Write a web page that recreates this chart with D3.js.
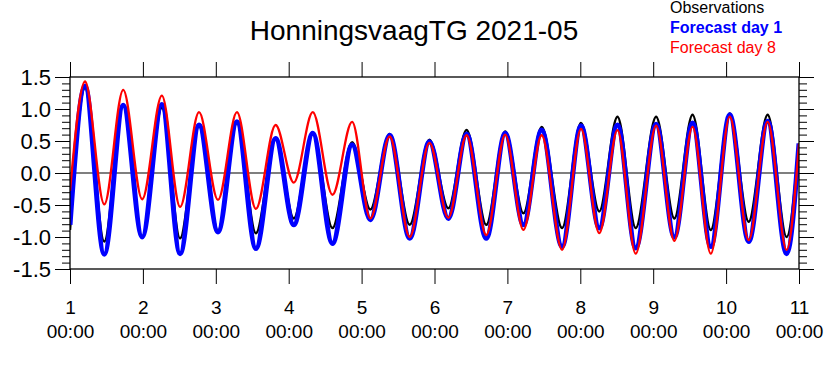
<!DOCTYPE html>
<html>
<head>
<meta charset="utf-8">
<script src="https://cdn.jsdelivr.net/npm/d3@7"></script>
<style>
  html, body { margin: 0; padding: 0; background: #fff; }
  svg { display: block; font-family: "Liberation Sans", Arial, Helvetica, sans-serif; }
</style>
</head>
<body>
<svg id="chart" width="825" height="375"></svg>
<script>
// ---- data (times of high/low water, in days of 2021-05) ----
const times = [1.0, 1.206, 1.47, 1.73, 1.99, 2.26, 2.51, 2.77, 3.03, 3.29, 3.55, 3.82, 4.07, 4.33, 4.6, 4.87,
  5.12, 5.385, 5.66, 5.93, 6.19, 6.44, 6.71, 6.97, 7.22, 7.47, 7.75, 8.01, 8.26, 8.51, 8.76, 9.04,
  9.29, 9.54, 9.79, 10.05, 10.31, 10.57, 10.83, 11.0];
const observations = [-0.89, 1.33, -1.07, 1.05, -1.0, 1.02, -1.02, 0.73, -0.9, 0.78, -0.94, 0.53, -0.71, 0.62, -0.86, 0.48,
  -0.57, 0.61, -0.81, 0.52, -0.55, 0.67, -0.81, 0.65, -0.63, 0.72, -0.86, 0.78, -0.60, 0.88, -0.86, 0.88,
  -0.71, 0.91, -0.89, 0.93, -0.76, 0.91, -1.0, 0.46];
const forecastDay1 = [-0.81, 1.36, -1.27, 1.06, -1.0, 1.07, -1.26, 0.75, -0.92, 0.80, -1.18, 0.54, -0.81, 0.62, -1.10, 0.44,
  -0.73, 0.59, -1.02, 0.49, -0.71, 0.61, -1.02, 0.62, -0.81, 0.67, -1.15, 0.74, -0.86, 0.75, -1.17, 0.76,
  -1.0, 0.78, -1.15, 0.91, -1.07, 0.81, -1.26, 0.46];
const forecastDay8 = [-0.28, 1.43, -0.49, 1.30, -0.41, 1.21, -0.53, 0.95, -0.42, 0.95, -0.56, 0.75, -0.15, 0.95, -0.34, 0.80,
  -0.71, 0.57, -1.0, 0.47, -0.70, 0.59, -0.97, 0.60, -0.89, 0.59, -1.2, 0.69, -0.94, 0.67, -1.26, 0.74,
  -1.06, 0.72, -1.26, 0.88, -1.05, 0.80, -1.2, 0.46];

const xTickDays = [1, 2, 3, 4, 5, 6, 7, 8, 9, 10, 11];
const xTickDayLabels = ["1", "2", "3", "4", "5", "6", "7", "8", "9", "10", "11"];
const xTickTimeLabels = ["00:00", "00:00", "00:00", "00:00", "00:00", "00:00", "00:00", "00:00", "00:00", "00:00", "00:00"];
const yTickValues = [-1.5, -1.0, -0.5, 0.0, 0.5, 1.0, 1.5];
const yTickLabels = ["-1.5", "-1.0", "-0.5", "0.0", "0.5", "1.0", "1.5"];

const titleText = "HonningsvaagTG 2021-05";
const legendNames = ["Observations", "Forecast day 1", "Forecast day 8"];
const seriesColors = ["#000000", "#0000ff", "#ff0000"];

// ---- layout ----
const svg = d3.select("#chart");
const L = 70, R = 799, T = 77, B = 269;
const x = d3.scaleLinear().domain([1, 11]).range([L, R]);
const y = d3.scaleLinear().domain([-1.5, 1.5]).range([B, T]);

// minor ticks on y (every 0.1)
const yMinor = d3.range(-15, 16).map(v => v / 10).filter(v => Math.abs(v * 2 - Math.round(v * 2)) > 1e-9);

function styleAxis(g) {
  g.select(".domain").remove();
  g.selectAll(".tick line").attr("stroke", "#000").attr("stroke-width", 1);
}

// left axis
svg.append("g").attr("transform", `translate(${L},0)`)
  .call(d3.axisLeft(y).tickValues(yMinor).tickSize(8).tickFormat(""))
  .call(styleAxis);
const yl = svg.append("g").attr("transform", `translate(${L},0)`)
  .call(d3.axisLeft(y).tickValues(yTickValues).tickSize(15).tickPadding(4)
    .tickFormat((d, i) => yTickLabels[i]))
  .call(styleAxis);
yl.selectAll(".tick text").attr("font-size", 22).attr("fill", "#000")
  .attr("font-family", "'Liberation Sans', Arial, sans-serif");

// right axis
svg.append("g").attr("transform", `translate(${R},0)`)
  .call(d3.axisRight(y).tickValues(yMinor).tickSize(8).tickFormat(""))
  .call(styleAxis);
svg.append("g").attr("transform", `translate(${R},0)`)
  .call(d3.axisRight(y).tickValues(yTickValues).tickSize(15).tickFormat(""))
  .call(styleAxis);

// top axis
svg.append("g").attr("transform", `translate(0,${T})`)
  .call(d3.axisTop(x).tickValues(xTickDays).tickSize(15).tickFormat(""))
  .call(styleAxis);

// bottom axis with two-line labels
const xb = svg.append("g").attr("transform", `translate(0,${B})`)
  .call(d3.axisBottom(x).tickValues(xTickDays).tickSize(15).tickFormat(""))
  .call(styleAxis);
xb.selectAll(".tick").each(function (d, i) {
  const t = d3.select(this).append("text")
    .attr("fill", "#000").attr("text-anchor", "middle")
    .attr("font-size", 19)
    .attr("font-family", "'Liberation Sans', Arial, sans-serif");
  t.append("tspan").attr("x", 0).attr("y", 45).text(xTickDayLabels[i]);
  t.append("tspan").attr("x", 0).attr("y", 69).text(xTickTimeLabels[i]);
});

// clip
svg.append("clipPath").attr("id", "clip").append("rect")
  .attr("x", L).attr("y", T).attr("width", R - L).attr("height", B - T);

// zero line
svg.append("line").attr("x1", L).attr("x2", R).attr("y1", y(0)).attr("y2", y(0))
  .attr("stroke", "#000").attr("stroke-width", 1.2);

const line = d3.line().x(d => x(d[0])).y(d => y(d[1])).curve(d3.curveMonotoneX);
const series = [
  { vals: observations, color: seriesColors[0], w: 2.5 },
  { vals: forecastDay1, color: seriesColors[1], w: 5 },
  { vals: forecastDay8, color: seriesColors[2], w: 2.3 }
];
const pg = svg.append("g").attr("clip-path", "url(#clip)");
series.forEach(s => {
  pg.append("path")
    .datum(times.map((t, i) => [t, s.vals[i]]))
    .attr("d", line)
    .attr("fill", "none")
    .attr("stroke", s.color)
    .attr("stroke-width", s.w)
    .attr("stroke-linejoin", "round");
});

// frame
svg.append("rect").attr("x", L).attr("y", T).attr("width", R - L).attr("height", B - T)
  .attr("fill", "none").attr("stroke", "#000").attr("stroke-width", 1.3);

// title
svg.append("text").attr("x", 414).attr("y", 40).attr("text-anchor", "middle")
  .attr("font-size", 28).attr("fill", "#000").text(titleText);

// legend
const legY = [13, 33, 53];
legendNames.forEach((n, i) => {
  svg.append("text").attr("x", 670).attr("y", legY[i])
    .attr("font-size", 16)
    .attr("font-weight", i === 1 ? "bold" : "normal")
    .attr("fill", seriesColors[i]).text(n);
});
</script>
</body>
</html>
